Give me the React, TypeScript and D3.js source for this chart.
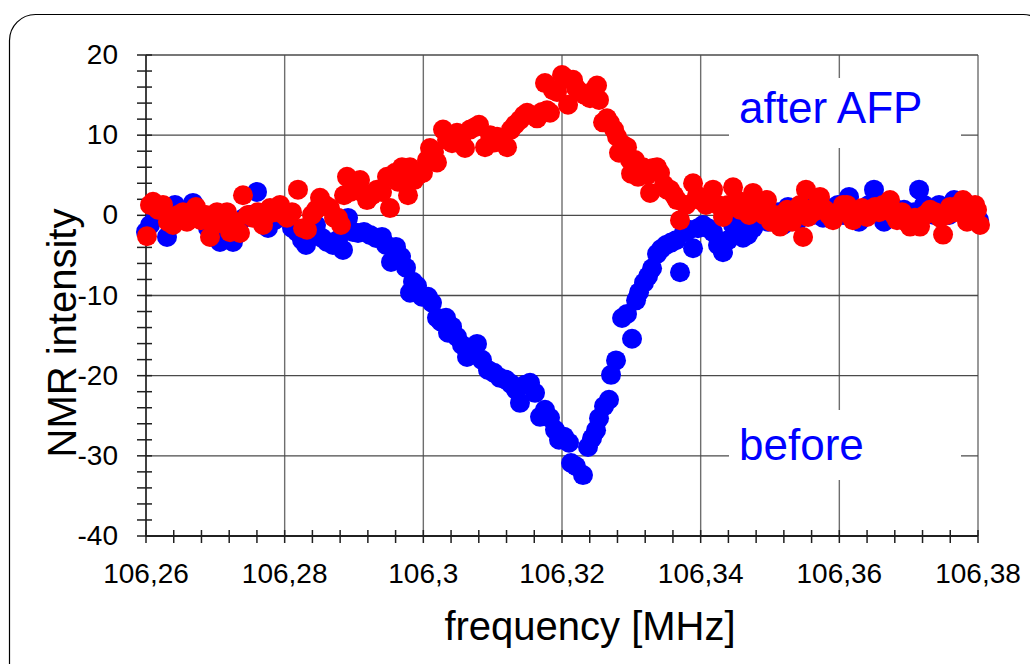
import React from "react";
import * as d3 from "d3";

const xTicks = [106.26, 106.28, 106.3, 106.32, 106.34, 106.36, 106.38];
const yTicks = [-40, -30, -20, -10, 0, 10, 20];

const beforeFreq = [
  106.26, 106.26058, 106.26144, 106.26202, 106.26303, 106.26361, 106.26418, 106.2649, 106.26563, 106.26678,
  106.26736, 106.26808, 106.26894, 106.26966, 106.27067, 106.27154, 106.27255, 106.27327, 106.27414, 106.275,
  106.27601, 106.27673, 106.2776, 106.27861, 106.27933, 106.28005, 106.28106, 106.28178, 106.2825, 106.28308,
  106.2838, 106.28452, 106.28539, 106.28611, 106.28697, 106.28769, 106.28841, 106.28914, 106.28986, 106.29058,
  106.29144, 106.29231, 106.29318, 106.29404, 106.29462, 106.29534, 106.29606, 106.29678, 106.2975, 106.29808,
  106.29851, 106.29909, 106.29981, 106.30067, 106.30125, 106.30197, 106.30255, 106.30327, 106.30356, 106.30414,
  106.30486, 106.30558, 106.3063, 106.30702, 106.30774, 106.30846, 106.30933, 106.31019, 106.31106, 106.31193,
  106.31265, 106.31337, 106.31394, 106.31467, 106.31539, 106.31611, 106.31683, 106.31755, 106.31827, 106.31899,
  106.31957, 106.32029, 106.32101, 106.3213, 106.32202, 106.32303, 106.32375, 106.32433, 106.32491, 106.32534,
  106.32606, 106.32678, 106.32707, 106.32779, 106.32866, 106.32938, 106.3301, 106.33068, 106.33111, 106.33183,
  106.33241, 106.33299, 106.33371, 106.33429, 106.33501, 106.33573, 106.33645, 106.33702, 106.3376, 106.33832,
  106.3389, 106.33962, 106.34034, 106.34106, 106.34178, 106.3425, 106.34322, 106.34395, 106.34467, 106.34539,
  106.34611, 106.34683, 106.34755, 106.34827, 106.34899, 106.34972, 106.35044, 106.35116, 106.35188, 106.3526,
  106.35332, 106.35404, 106.35477, 106.35549, 106.35621, 106.35693, 106.35765, 106.35837, 106.35909, 106.35981,
  106.36054, 106.3614, 106.36212, 106.36284, 106.36356, 106.36428, 106.365, 106.36573, 106.36645, 106.36717,
  106.36789, 106.36861, 106.36933, 106.37005, 106.37078, 106.3715, 106.37222, 106.37294, 106.37366, 106.37438,
  106.37511, 106.37583, 106.37655, 106.37727, 106.37799, 106.37871, 106.37943, 106.38015,
];
const beforeValues = [
  -2.07, -1.2, -0.2, 0.67, -2.69, -0.82, 1.3, 0.05, -0.57, 1.55,
  0.05, -0.57, -1.57, -2.07, -3.32, -2.07, -3.32, -1.57, -0.32, 0.05,
  2.92, -0.82, -1.57, -0.57, 0.42, 0.05, -1.57, -2.07, -3.07, -3.69,
  -2.07, -1.2, -2.82, -3.32, -3.69, -3.07, -4.31, -0.32, -2.07, -2.19,
  -2.07, -2.44, -2.82, -2.69, -3.69, -5.81, -3.94, -5.16, -6.53, -9.65,
  -8.28, -8.78, -10.15, -10.15, -10.9, -12.77, -13.27, -12.77, -14.64, -13.89,
  -15.16, -16.16, -17.66, -16.79, -16.04, -18.03, -19.28, -19.65, -20.27, -20.52,
  -21.02, -21.77, -23.39, -21.14, -20.89, -22.14, -25.14, -24.26, -25.26, -26.76,
  -28.0, -27.61, -28.36, -30.9, -31.3, -32.4, -28.9, -27.8, -26.8, -25.3,
  -23.8, -23.0, -19.9, -18.1, -12.8, -12.3, -15.4, -10.6, -9.6, -8.4,
  -7.6, -6.6, -4.8, -4.2, -3.7, -3.4, -3.1, -7.1, -2.1, -1.8,
  -4.1, -1.6, -1.2, -1.6, -2.1, -3.7, -4.6, -3.1, -1.2, -0.8,
  -2.8, -2.4, -1.6, -0.8, -0.3, -0.8, 0.05, 0.4, -1.2, 1.05,
  0.7, -0.6, 1.3, 0.3, 0.05, 0.7, -0.3, 0.9, 0.4, 1.3,
  0.05, 2.3, 0.7, -0.8, 0.05, 1.3, 3.2, 1.7, -0.8, 0.4,
  0.9, 0.05, 0.7, -0.3, 0.4, 3.2, 1.3, 0.7, 0.05, 1.3,
  0.7, 0.05, 1.9, 0.7, 1.7, 0.4, 0.05, -0.6,
];

const afterFreq = [
  106.26014, 106.26058, 106.26101, 106.26173, 106.26245, 106.26317, 106.2639, 106.26462, 106.26534, 106.26591,
  106.26663, 106.26721, 106.26793, 106.26865, 106.26923, 106.26981, 106.27024, 106.27096, 106.27168, 106.27212,
  106.27284, 106.27356, 106.27399, 106.27471, 106.27543, 106.27615, 106.27688, 106.27745, 106.27789, 106.27861,
  106.27933, 106.2799, 106.28034, 106.28106, 106.28192, 106.28265, 106.28322, 106.28394, 106.28452, 106.2851,
  106.28582, 106.28654, 106.28712, 106.28769, 106.28813, 106.28856, 106.28899, 106.28943, 106.29015, 106.29087,
  106.2913, 106.29188, 106.2926, 106.29332, 106.29404, 106.29476, 106.29519, 106.29592, 106.29635, 106.29692,
  106.29779, 106.29808, 106.29866, 106.29923, 106.29995, 106.30053, 106.30096, 106.30154, 106.30197, 106.30284,
  106.30342, 106.30414, 106.30486, 106.30544, 106.30601, 106.30673, 106.30745, 106.30803, 106.3089, 106.30962,
  106.31019, 106.31063, 106.31135, 106.31207, 106.31265, 106.31322, 106.31394, 106.31452, 106.31496, 106.31568,
  106.3164, 106.31712, 106.31755, 106.31784, 106.31827, 106.3187, 106.31928, 106.32, 106.32058, 106.32087,
  106.32159, 106.32202, 106.3226, 106.32332, 106.32404, 106.32462, 106.32505, 106.32534, 106.32592, 106.32649,
  106.32693, 106.32751, 106.32794, 106.32822, 106.3288, 106.32938, 106.32981, 106.32996, 106.33053, 106.33097,
  106.33169, 106.33227, 106.3327, 106.33313, 106.33371, 106.33414, 106.33472, 106.33515, 106.33558, 106.33616,
  106.33659, 106.33702, 106.33789, 106.3389, 106.33947, 106.33991, 106.34077, 106.34178, 106.3425, 106.34322,
  106.34395, 106.34467, 106.34525, 106.34568, 106.3464, 106.34698, 106.34755, 106.34813, 106.34856, 106.34914,
  106.34957, 106.35015, 106.35073, 106.35145, 106.35202, 106.35246, 106.35318, 106.35375, 106.35433, 106.35477,
  106.35519, 106.35549, 106.35621, 106.35679, 106.35721, 106.35794, 106.35851, 106.35909, 106.35981, 106.36054,
  106.36111, 106.36154, 106.36197, 106.3627, 106.36327, 106.36399, 106.36457, 106.36515, 106.36573, 106.3663,
  106.36688, 106.36731, 106.36789, 106.36832, 106.36904, 106.36962, 106.3702, 106.37092, 106.37164, 106.37236,
  106.37309, 106.37381, 106.37453, 106.37496, 106.37553, 106.37597, 106.37669, 106.37727, 106.37784, 106.37842,
  106.379, 106.37958, 106.37986, 106.38029,
];
const afterValues = [
  -2.6, 1.3, 1.7, 0.7, 1.3, -0.8, -1.2, 0.05, 0.4, -0.8,
  0.05, 1.05, -0.6, 0.05, -2.7, -1.2, 0.4, -0.3, 0.4, -2.1,
  -0.8, -2.2, 2.5, 0.05, -0.3, 0.4, -1.2, 0.05, 0.9, 0.4,
  1.3, 0.05, -0.3, 0.4, 3.2, -1.6, -1.8, 0.05, 0.7, 2.2,
  1.3, 0.9, -0.3, -0.3, -1.2, 2.5, 4.8, 2.9, 3.8, 4.4,
  2.8, 1.9, 2.5, 3.2, 2.9, 4.8, 0.9, 5.3, 4.2, 6.0,
  2.5, 6.0, 4.4, 5.0, 5.3, 6.9, 8.4, 7.9, 6.6, 10.7,
  9.4, 9.0, 10.3, 9.4, 8.4, 10.7, 11.0, 11.3, 8.5, 10.0,
  9.1, 9.8, 9.4, 8.5, 10.7, 11.3, 11.9, 12.5, 12.8, 12.5,
  12.1, 12.9, 16.5, 13.1, 12.8, 15.6, 15.4, 17.5, 17.1, 13.8,
  16.9, 15.9, 15.4, 15.0, 14.6, 15.6, 16.2, 14.4, 11.6, 12.1,
  11.5, 10.7, 9.8, 7.8, 8.8, 8.5, 6.9, 5.2, 6.9, 4.8,
  6.0, 5.0, 2.8, 5.9, 6.0, 5.3, 3.8, 3.2, 3.2, 2.5,
  1.9, -0.6, 1.3, 4.0, 2.5, 1.9, 1.3, 3.2, 1.3, -0.2,
  1.3, 3.5, 1.9, 0.7, 1.3, 0.05, 2.8, 1.3, 1.05, 0.05,
  1.9, -0.8, 0.05, -1.4, 0.05, 0.7, -0.8, 0.4, 1.3, -2.7,
  3.2, -0.2, 0.4, 1.3, 2.3, 0.7, 0.05, -0.6, 0.4, 1.3,
  1.3, 0.05, -0.6, 0.4, 0.9, -0.2, 0.7, 1.05, 0.4, 1.3,
  0.7, 1.9, 0.05, -0.6, 0.4, -0.8, -1.4, -0.3, -1.4, 0.05,
  0.7, 0.4, -0.3, -2.4, 0.05, 1.05, 0.4, 1.3, 1.9, -0.8,
  0.4, 1.3, 0.7, -1.2,
];

const W = 1030;
const H = 664;
const FONT = "'Liberation Sans', Arial, sans-serif";

export default function App() {
  const x = d3.scaleLinear().domain([106.26, 106.38]).range([146, 978]);
  const y = d3.scaleLinear().domain([-40, 20]).range([536, 55]);

  const xMinor = d3.range(0, 31).map((i) => 106.26 + i * 0.004);
  const yMinor = d3.range(0, 31).map((i) => -40 + i * 2);

  const fmtX = (v: number) => String(+v.toFixed(2)).replace(".", ",");

  const before = beforeFreq.map((f, i) => ({ f, v: beforeValues[i] }));
  const after = afterFreq.map((f, i) => ({ f, v: afterValues[i] }));

  return (
    <svg
      width={W}
      height={H}
      style={{ position: "absolute", left: 0, top: 0, background: "#fff" }}
    >
      <rect x={9.5} y={14.5} width={1040} height={700} rx={26} ry={26} fill="#fff" stroke="#000" strokeWidth={1.2} />

      {/* gridlines */}
      {xTicks.map((t) => (
        <line key={"gx" + t} x1={x(t)} x2={x(t)} y1={y(20)} y2={y(-40)} stroke="#6e6e6e" strokeWidth={1.4} />
      ))}
      {yTicks.map((t) => (
        <line key={"gy" + t} x1={x(106.26)} x2={x(106.38)} y1={y(t)} y2={y(t)} stroke="#4a4a4a" strokeWidth={1.4} />
      ))}

      {/* label boxes */}
      <rect x={729} y={78} width={232} height={70} fill="#fff" />
      <rect x={729} y={410} width={232} height={70} fill="#fff" />

      {/* axes */}
      <line x1={x(106.26)} x2={x(106.26)} y1={y(20)} y2={y(-40)} stroke="#404040" strokeWidth={2} />
      <line x1={x(106.26)} x2={x(106.38)} y1={y(-40)} y2={y(-40)} stroke="#202020" strokeWidth={2} />
      {yMinor.map((t) => (
        <line key={"ty" + t} x1={x(106.26) - 9} x2={x(106.26) + 6} y1={y(t)} y2={y(t)} stroke="#202020" strokeWidth={1.5} />
      ))}
      {xMinor.map((t, i) => (
        <line key={"tx" + i} x1={x(t)} x2={x(t)} y1={y(-40) - 6} y2={y(-40) + 7} stroke="#202020" strokeWidth={1.5} />
      ))}

      {/* tick labels */}
      {yTicks.map((t) => (
        <text key={"ly" + t} x={118} y={y(t) + 9} textAnchor="end" fontFamily={FONT} fontSize={28} fill="#000">
          {String(t)}
        </text>
      ))}
      {xTicks.map((t) => (
        <text key={"lx" + t} x={x(t)} y={583} textAnchor="middle" fontFamily={FONT} fontSize={28} fill="#000">
          {fmtX(t)}
        </text>
      ))}

      {/* data */}
      <g>
        {before.map((d, i) => (
          <circle key={"b" + i} cx={x(d.f)} cy={y(d.v)} r={10} fill="#0000ff" />
        ))}
      </g>
      <g>
        {after.map((d, i) => (
          <circle key={"a" + i} cx={x(d.f)} cy={y(d.v)} r={10} fill="#ff0000" />
        ))}
      </g>

      {/* annotations */}
      <text x={739} y={123} fontFamily={FONT} fontSize={44} fill="#0000ff">after AFP</text>
      <text x={739} y={460} fontFamily={FONT} fontSize={44} fill="#0000ff">before</text>

      {/* axis titles */}
      <text x={590} y={640} textAnchor="middle" fontFamily={FONT} fontSize={40} fill="#000">
        frequency [MHz]
      </text>
      <text
        transform="translate(76,333) rotate(-90)"
        textAnchor="middle"
        fontFamily={FONT}
        fontSize={40}
        fill="#000"
      >
        NMR intensity
      </text>
    </svg>
  );
}
